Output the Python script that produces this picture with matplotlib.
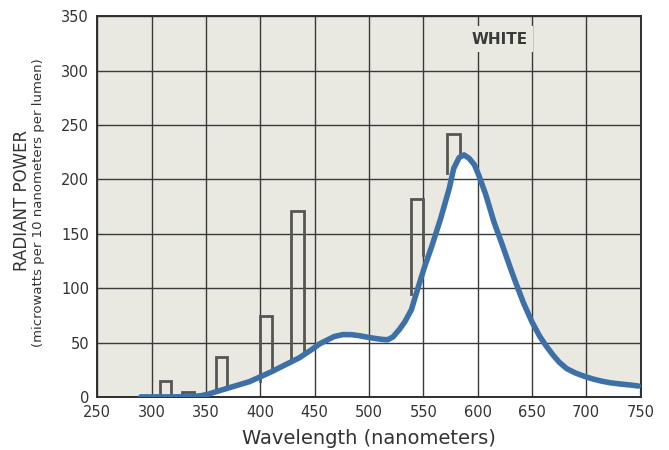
import matplotlib
matplotlib.use("Agg")
import matplotlib.pyplot as plt
import numpy as np

# spectral power curve of the "white" fluorescent lamp
wavelength = [290, 300, 320, 335, 345, 352, 360, 370, 380, 390, 400, 410, 420, 430,
              436, 442, 448, 455, 461, 468, 476, 484, 491, 498, 504, 511, 517, 522,
              528, 533, 539, 546, 551, 558, 566, 574, 578, 583, 587.5, 592, 597, 601,
              607.5, 615, 623, 630, 634, 642, 650, 657, 663, 669, 675, 682, 690, 698,
              706, 714, 722, 730, 740, 748]
power = [0, 0, 0, 0.3, 1, 2.5, 5, 8, 11, 14, 18.5, 23, 28, 33,
         36, 40, 44, 49, 52, 55.5, 57.3, 57.2, 56.3, 55, 54, 53, 52.5, 55,
         62, 69, 80, 103, 119, 139, 164, 192, 210, 220, 222.5, 219.5, 213.5, 204,
         186, 161, 139, 119, 108, 87, 69, 56, 47, 39, 32, 26, 22, 19,
         16.5, 14.5, 13, 12, 11, 10]

# mercury lines (drawn as open bars sitting on the curve)
hg_left = [308, 328, 359.5, 400, 428.5, 539, 572]
hg_right = [318, 339, 369.5, 411, 440, 549.5, 584]
hg_top = [14.2, 4.3, 36.7, 74, 171, 182, 242]
hg_base_left = [0, 0, 6.8, 14.4, 34.5, 94.7, 206]
hg_base_right = [0, 0, 9.3, 23.7, 40.7, 130, 224]

x_ticks = list(range(250, 751, 50))
y_ticks = list(range(0, 351, 50))

paper = "#e9e9e2"
ink = "#3a3a3a"

fig = plt.figure(figsize=(6.69, 4.5), dpi=100)
ax = fig.add_axes([0.1455, 0.118, 0.812, 0.846])
ax.set_facecolor(paper)

ax.fill_between(wavelength, power, 0, color="white", zorder=0.3, linewidth=0)
ax.set_axisbelow(True)
ax.grid(True, color=ink, linewidth=1.0)

for i in range(len(hg_left)):
    ax.plot([hg_left[i], hg_left[i], hg_right[i], hg_right[i]],
            [hg_base_left[i], hg_top[i], hg_top[i], hg_base_right[i]],
            color="#555555", linewidth=2.0, zorder=2, solid_joinstyle="miter")

ax.plot(wavelength, power, color="#3e70a8", linewidth=4.0, zorder=3,
        solid_capstyle="round", solid_joinstyle="round")

ax.text(620, 329, "WHITE", ha="center", va="center", fontsize=11,
        fontweight="bold", color="#3a3a3a", zorder=4,
        bbox=dict(facecolor=paper, edgecolor="none", pad=4))

ax.set_xlim(250, 750)
ax.set_ylim(0, 350)
ax.set_xticks(x_ticks)
ax.set_yticks(y_ticks)
ax.tick_params(length=0, labelsize=10.5, colors="#333333", pad=6)

for s in ax.spines.values():
    s.set_color("#2e2e2e")
    s.set_linewidth(1.4)

ax.set_xlabel("Wavelength (nanometers)", fontsize=14, color="#333333", labelpad=6)

fig.text(0.033, 0.555, "RADIANT POWER", rotation=90, ha="center", va="center",
         fontsize=12, color="#333333")
fig.text(0.058, 0.55, "(microwatts per 10 nanometers per lumen)", rotation=90,
         ha="center", va="center", fontsize=9.5, color="#333333")

fig.savefig("out.png", dpi=100)
